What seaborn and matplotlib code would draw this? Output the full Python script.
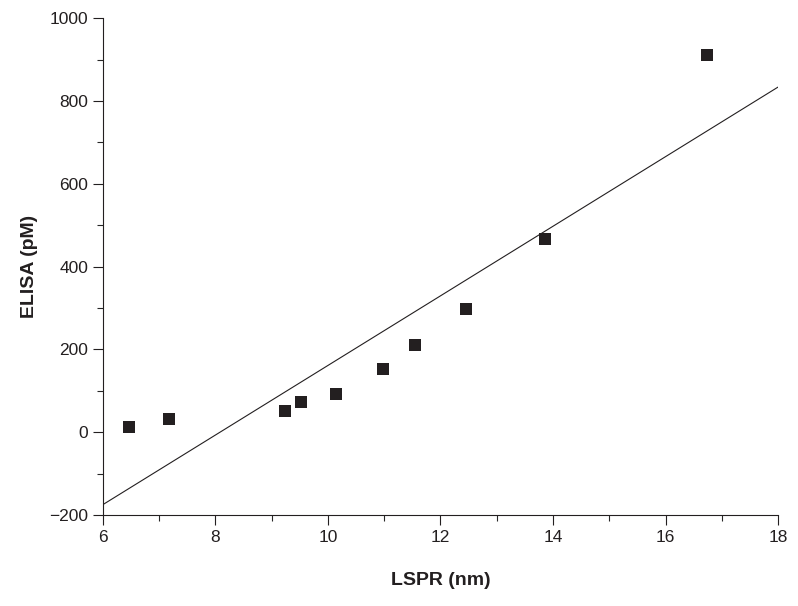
import numpy as np
import pandas as pd
import seaborn as sns
import matplotlib.pyplot as plt
from matplotlib.ticker import MultipleLocator

# values
lspr = [6.47, 7.17, 9.23, 9.52, 10.14, 10.98, 11.55, 12.45, 13.86, 16.74]
elisa = [12, 31, 52, 72, 92, 152, 210, 297, 466, 912]
x_ticks = [6, 8, 10, 12, 14, 16, 18]
y_ticks = [-200, 0, 200, 400, 600, 800, 1000]

df = pd.DataFrame({'LSPR': lspr, 'ELISA': elisa})

sns.set_style('ticks')
plt.rcParams['font.family'] = ['Liberation Sans', 'DejaVu Sans']

fig = plt.figure(figsize=(7.98, 6.06), dpi=100)
ax = fig.add_axes([0.129, 0.150, 0.846, 0.820])
ax.set_xlim(6, 18)
ax.set_ylim(-200, 1000)

# linear fit across the full axis range
sns.regplot(data=df, x='LSPR', y='ELISA', ax=ax, ci=None, truncate=False,
            marker='s',
            scatter_kws={'s': 64, 'color': '#231f20', 'linewidths': 0, 'alpha': 1},
            line_kws={'color': '#231f20', 'linewidth': 0.8})

ax.set_xlim(6, 18)
ax.set_ylim(-200, 1000)
ax.set_xticks(x_ticks)
ax.set_yticks(y_ticks)
ax.set_yticklabels(['\u2212200' if v < 0 else str(v) for v in y_ticks])
ax.xaxis.set_minor_locator(MultipleLocator(1))
ax.yaxis.set_minor_locator(MultipleLocator(100))
ax.tick_params(which='major', length=7, width=0.8, labelsize=12.5, colors='#231f20')
ax.tick_params(which='minor', length=4, width=0.8)
for s in ['top', 'right']:
    ax.spines[s].set_visible(False)
for s in ['left', 'bottom']:
    ax.spines[s].set_linewidth(0.8)
    ax.spines[s].set_color('#231f20')

ax.set_xlabel('LSPR (nm)', fontsize=14, fontweight='bold', labelpad=20, color='#231f20')
ax.set_ylabel('ELISA (pM)', fontsize=14, fontweight='bold', labelpad=8, color='#231f20')

fig.savefig('out.png', dpi=100)
